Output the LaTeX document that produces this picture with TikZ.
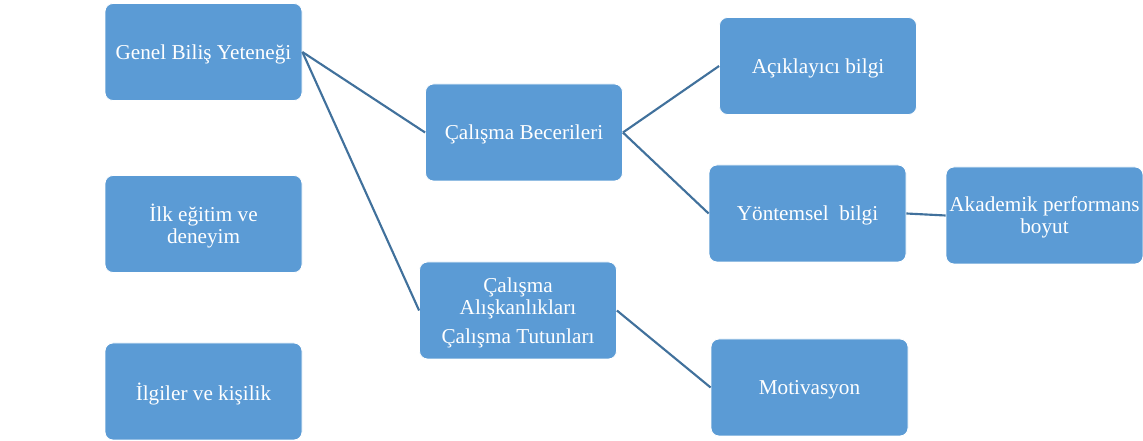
\documentclass[tikz,border=0pt]{standalone}
\usepackage{fontspec}
\setmainfont{Liberation Serif}
\definecolor{boxblue}{HTML}{5B9BD5}
\definecolor{linkblue}{HTML}{41719C}
\begin{document}
\begin{tikzpicture}[x=0.75pt,y=-0.75pt,
  box/.style={draw=white,line width=0.6pt,fill=boxblue,rounded corners=6pt,
    minimum width=147.75pt,minimum height=72.75pt,inner sep=1pt,text depth=0pt,
    text=white,align=center,font=\fontsize{15.9}{16.5}\selectfont},
  link/.style={draw=linkblue,line width=1.6pt}]
\useasboundingbox (0,0) rectangle (1143,441);
\node[box] (gen) at (203.5,52) {Genel Biliş Yeteneği};
\node[box] (ilk) at (203.5,224) {İlk eğitim ve\\deneyim};
\node[box] (ilg) at (203.5,391.5) {İlgiler ve kişilik};
\node[box] (bec) at (524,132.5) {Çalışma Becerileri};
\node[box] (ali) at (518,310.5) {Çalışma\\Alışkanlıkları\\[5pt]Çalışma Tutunları};
\node[box] (aci) at (818,66) {Açıklayıcı bilgi};
\node[box] (yon) at (807.5,213.5) {Yöntemsel\ \ bilgi};
\node[box] (aka) at (1044.5,215.5) {Akademik performans\\boyut};
\node[box] (mot) at (809.5,387.5) {Motivasyon};
\draw[link] (gen.east) -- (bec.west);
\draw[link] (gen.east) -- (ali.west);
\draw[link] (bec.east) -- (aci.west);
\draw[link] (bec.east) -- (yon.west);
\draw[link] (yon.east) -- (aka.west);
\draw[link] (ali.east) -- (mot.west);
\end{tikzpicture}
\end{document}
